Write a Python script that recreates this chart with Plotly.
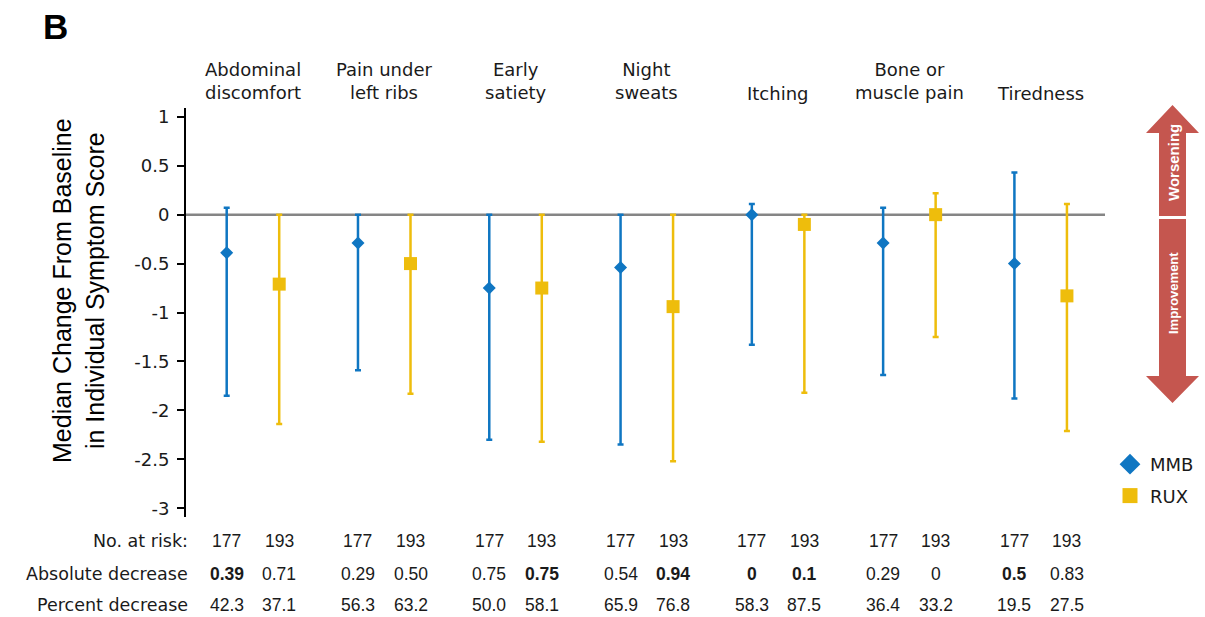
import plotly.graph_objects as go

# ---- data -------------------------------------------------------------
symptoms = ["Abdominal<br>discomfort", "Pain under<br>left ribs", "Early<br>satiety",
            "Night<br>sweats", "Itching", "Bone or<br>muscle pain", "Tiredness"]

# absolute decrease of the median (table row); medians are drawn from these
abs_mmb = ["0.39", "0.29", "0.75", "0.54", "0", "0.29", "0.5"]
abs_rux = ["0.71", "0.50", "0.75", "0.94", "0.1", "0", "0.83"]
abs_mmb_bold = [True, False, False, False, True, False, True]
abs_rux_bold = [False, False, True, True, True, False, False]

# range limits around each median
mmb_upper = [0.07, 0.0, 0.0, 0.0, 0.11, 0.07, 0.43]
mmb_lower = [-1.85, -1.59, -2.30, -2.35, -1.33, -1.64, -1.88]
rux_upper = [0.0, 0.0, 0.0, 0.0, 0.0, 0.22, 0.11]
rux_lower = [-2.14, -1.83, -2.32, -2.52, -1.82, -1.25, -2.21]

n_mmb = [177, 177, 177, 177, 177, 177, 177]
n_rux = [193, 193, 193, 193, 193, 193, 193]
pct_mmb = ["42.3", "56.3", "50.0", "65.9", "58.3", "36.4", "19.5"]
pct_rux = ["37.1", "63.2", "58.1", "76.8", "87.5", "33.2", "27.5"]

tick_vals = [1, 0.5, 0, -0.5, -1, -1.5, -2, -2.5, -3]
tick_text = ["1", "0.5", "0", "-0.5", "-1", "-1.5", "-2", "-2.5", "-3"]

# ---- styling ----------------------------------------------------------
BLUE = "#0f76c2"
GOLD = "#eebd0c"
ARROW = "#c5564f"
INK = "#1a1a1a"
W, H = 1205, 617
ML, MR, MT, MB = 186, 100, 108, 100
OFFSET = 0.2
SANS = "DejaVu Sans"
ARIAL = "Liberation Sans, Arial"

mmb_med = [-float(v) for v in abs_mmb]
rux_med = [-float(v) for v in abs_rux]
groups = list(range(len(symptoms)))
x_mmb = [g - OFFSET for g in groups]
x_rux = [g + OFFSET for g in groups]


def fx(px):
    """pixel column -> paper x"""
    return (px - ML) / (W - ML - MR)


def fy(py):
    """pixel row -> paper y"""
    return (H - MB - py) / (H - MT - MB)


fig = go.Figure()

fig.add_trace(go.Scatter(
    x=x_mmb, y=mmb_med, mode="markers", showlegend=False,
    marker=dict(symbol="diamond", size=10, color=BLUE),
    error_y=dict(type="data", symmetric=False,
                 array=[u - m for u, m in zip(mmb_upper, mmb_med)],
                 arrayminus=[m - l for m, l in zip(mmb_med, mmb_lower)],
                 color=BLUE, thickness=2.5, width=3),
))
fig.add_trace(go.Scatter(
    x=x_rux, y=rux_med, mode="markers", showlegend=False,
    marker=dict(symbol="square", size=13, color=GOLD),
    error_y=dict(type="data", symmetric=False,
                 array=[u - m for u, m in zip(rux_upper, rux_med)],
                 arrayminus=[m - l for m, l in zip(rux_med, rux_lower)],
                 color=GOLD, thickness=2.5, width=3),
))
# legend entries
fig.add_trace(go.Scatter(x=[None], y=[None], mode="markers", name="MMB",
                         legendgroup="a",
                         marker=dict(symbol="diamond", size=16, color=BLUE)))
fig.add_trace(go.Scatter(x=[None], y=[None], mode="markers", name="RUX",
                         legendgroup="b",
                         marker=dict(symbol="square", size=15, color=GOLD)))

shapes = [
    # zero reference line
    dict(type="line", xref="paper", yref="y", x0=0, x1=1, y0=0, y1=0,
         line=dict(color="#858585", width=2.5), layer="below"),
    # worsening / improvement arrow
    dict(type="path", xref="paper", yref="paper", fillcolor=ARROW, line=dict(width=0),
         path=(f"M {fx(1159)},{fy(216)} L {fx(1159)},{fy(133)} L {fx(1146)},{fy(133)} "
               f"L {fx(1172.5)},{fy(105)} L {fx(1199)},{fy(133)} L {fx(1186)},{fy(133)} "
               f"L {fx(1186)},{fy(216)} Z")),
    dict(type="path", xref="paper", yref="paper", fillcolor=ARROW, line=dict(width=0),
         path=(f"M {fx(1159)},{fy(219)} L {fx(1159)},{fy(376)} L {fx(1146)},{fy(376)} "
               f"L {fx(1172.5)},{fy(403)} L {fx(1199)},{fy(376)} L {fx(1186)},{fy(376)} "
               f"L {fx(1186)},{fy(219)} Z")),
]

ann = []


def label(text, px, py, size, family=ARIAL, color="black", angle=0):
    ann.append(dict(text=text, xref="paper", yref="paper", x=fx(px), y=fy(py),
                    xanchor="center", yanchor="middle", textangle=angle,
                    showarrow=False, font=dict(family=family, size=size, color=color)))


# panel letter
label("<b>B</b>", 55, 26, 35)
# y-axis title
label("Median Change From Baseline<br>in Individual Symptom Score", 78, 291, 25, angle=-90)
# arrow captions
label("<b>Worsening</b>", 1173, 163, 15, color="white", angle=-90)
label("<b>Improvement</b>", 1173, 293, 13, color="white", angle=-90)

# symptom headers
for g, name in zip(groups, symptoms):
    cy = 81 if "<br>" in name else 93
    ann.append(dict(text=name, x=g, xref="x", yref="paper", y=fy(cy),
                    xanchor="center", yanchor="middle", showarrow=False,
                    font=dict(family=SANS, size=18, color=INK)))

# table underneath
row_y = [541, 574, 605]
row_labels = ["No. at risk:", "Absolute decrease", "Percent decrease"]
for ry, lab in zip(row_y, row_labels):
    ann.append(dict(text=lab, xref="paper", yref="paper", x=fx(190), y=fy(ry),
                    xanchor="right", yanchor="middle", showarrow=False,
                    font=dict(family=SANS, size=17.5, color=INK)))


def cell(x, ry, txt, bold=False):
    t = f"<b>{txt}</b>" if bold else txt
    ann.append(dict(text=t, x=x, xref="x", yref="paper", y=fy(ry),
                    xanchor="center", yanchor="middle",
                    showarrow=False, font=dict(family=ARIAL, size=17.5, color=INK)))


for i in groups:
    cell(x_mmb[i], row_y[0], str(n_mmb[i]))
    cell(x_rux[i], row_y[0], str(n_rux[i]))
    cell(x_mmb[i], row_y[1], abs_mmb[i], abs_mmb_bold[i])
    cell(x_rux[i], row_y[1], abs_rux[i], abs_rux_bold[i])
    cell(x_mmb[i], row_y[2], pct_mmb[i])
    cell(x_rux[i], row_y[2], pct_rux[i])

fig.update_layout(
    width=W, height=H,
    margin=dict(l=ML, r=MR, t=MT, b=MB, autoexpand=False),
    paper_bgcolor="white", plot_bgcolor="white",
    shapes=shapes, annotations=ann,
    xaxis=dict(range=[-0.51, 6.49], visible=False, fixedrange=True),
    yaxis=dict(range=[-3.09, 1.09], tickvals=tick_vals, ticktext=tick_text,
               showline=True, linecolor="black", linewidth=2,
               ticks="outside", ticklen=7, tickwidth=1.5, tickcolor="black",
               ticklabelstandoff=4, showgrid=False, zeroline=False,
               tickfont=dict(family=SANS, size=18, color=INK)),
    legend=dict(x=fx(1110), y=fy(446), xanchor="left", yanchor="top",
                font=dict(family=SANS, size=18, color=INK),
                tracegroupgap=5, bgcolor="rgba(0,0,0,0)"),
    showlegend=True,
)

fig.write_html("out.html")
